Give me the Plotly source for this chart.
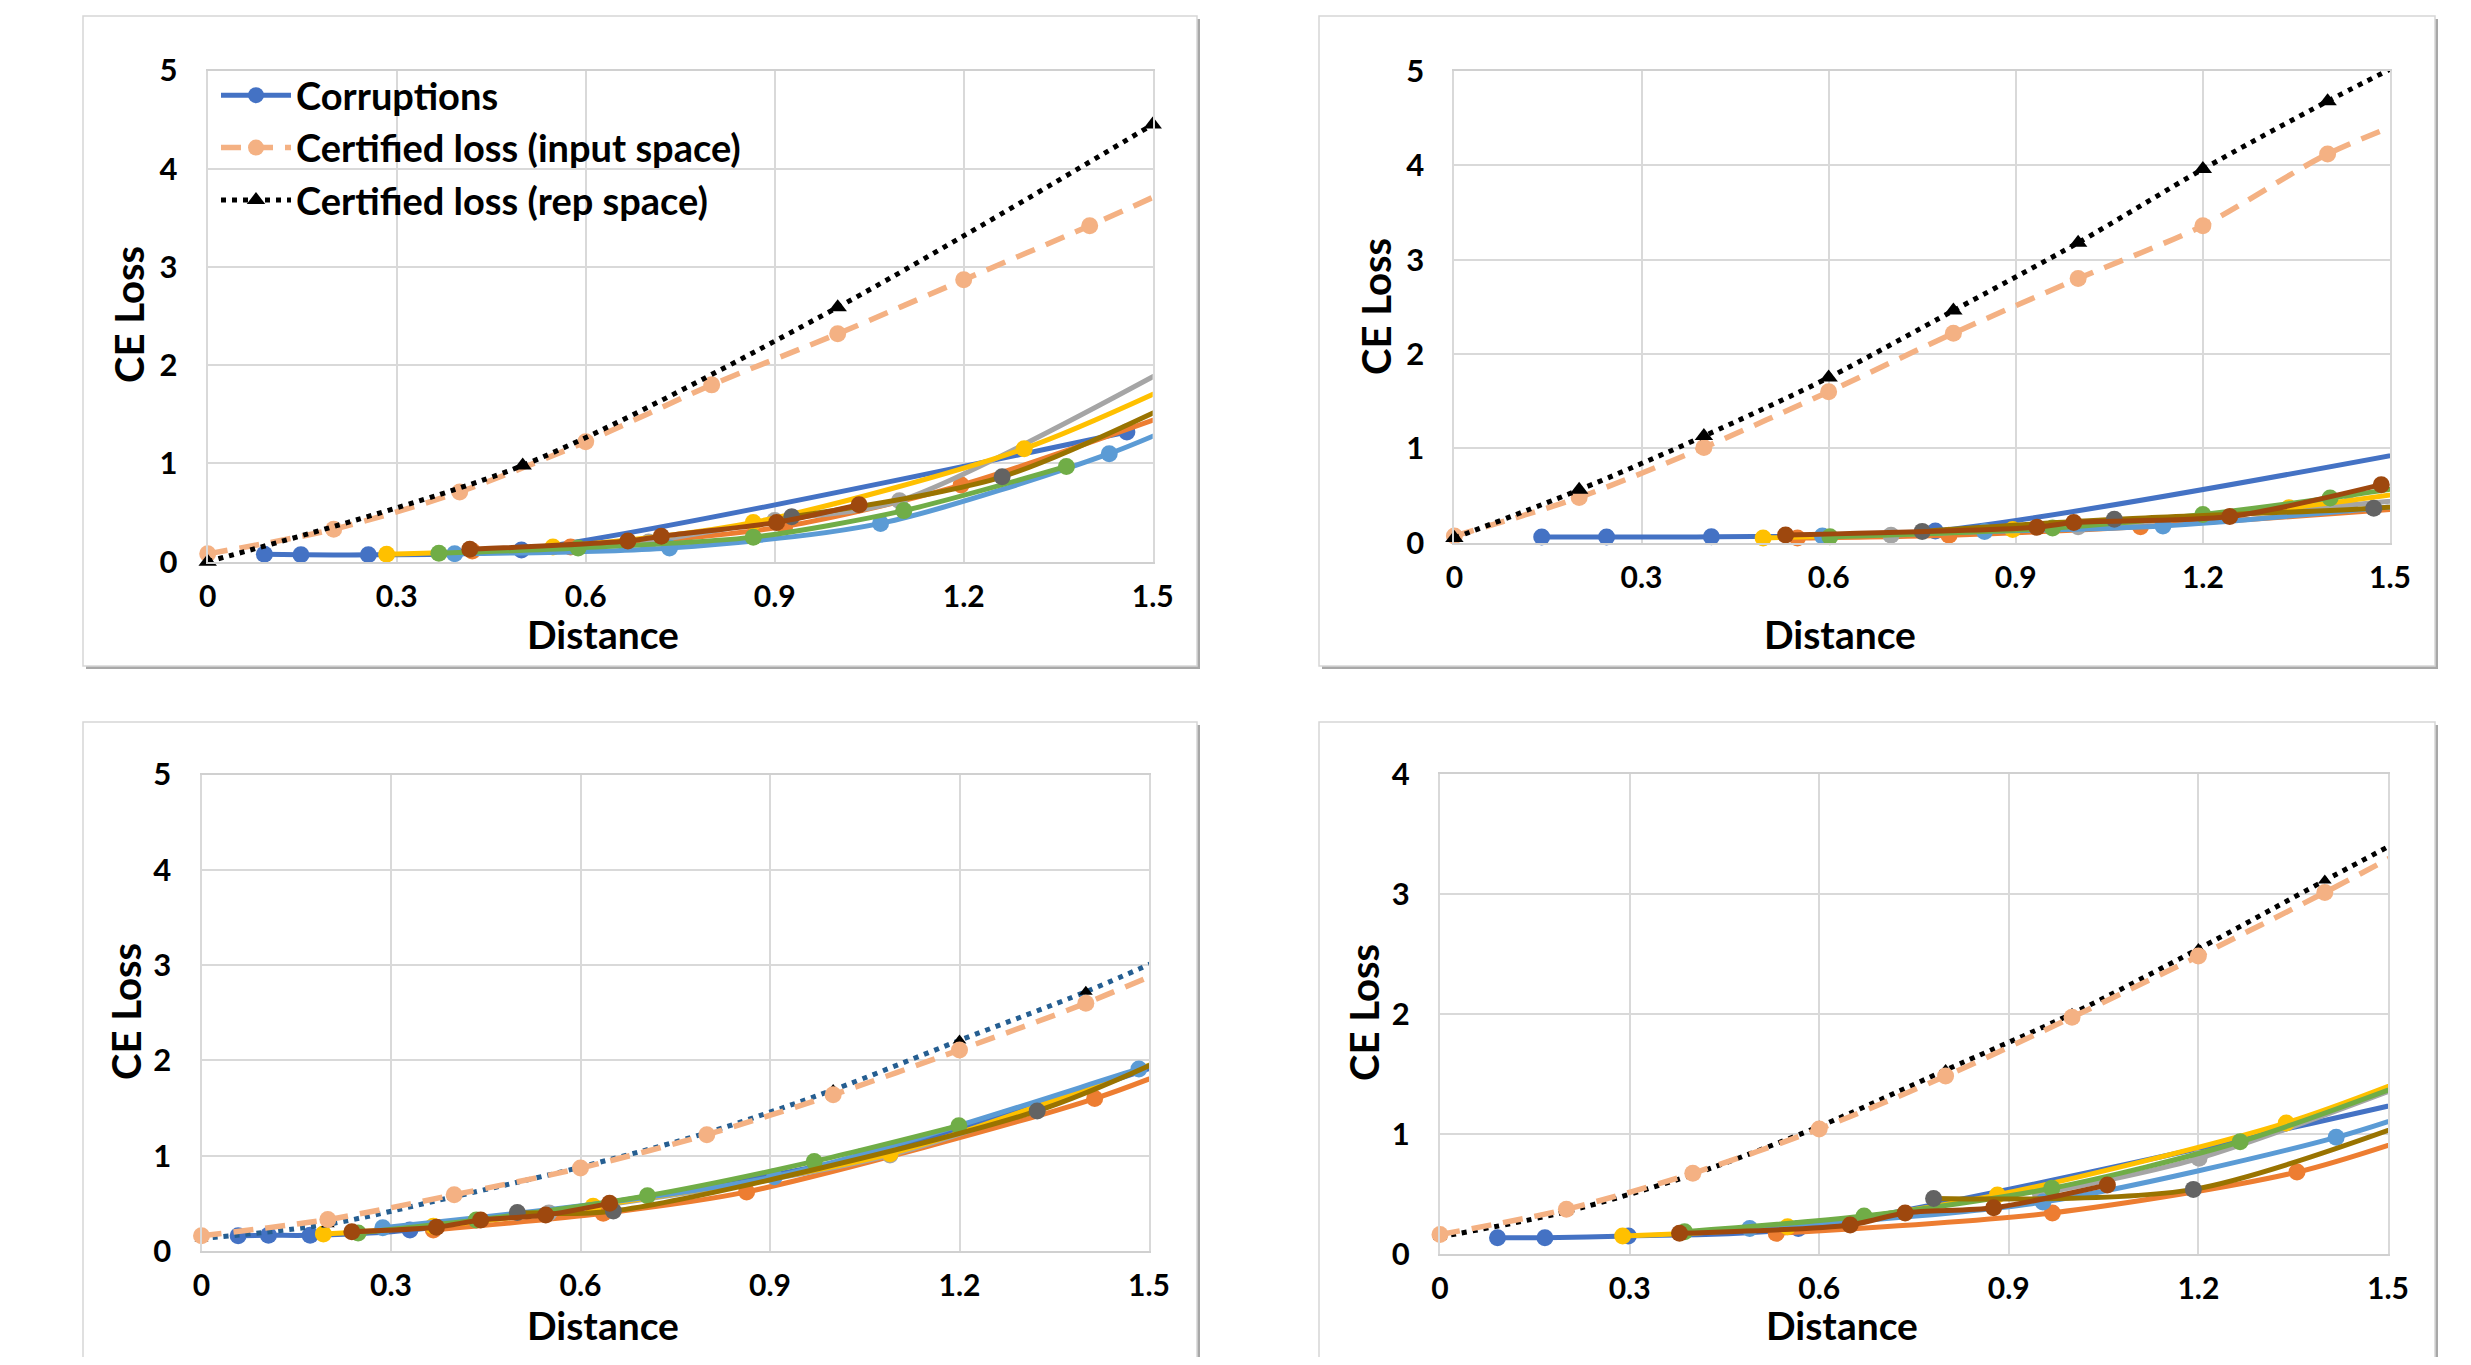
import plotly.graph_objects as go

# Page is 2471x1365; the browser body keeps an 8px margin, so the figure is
# 16px smaller and all target pixel positions are shifted by OFF.
PAGE_W, PAGE_H = 2471, 1365
OFF = 8
W, H = PAGE_W - 2 * OFF, PAGE_H - 2 * OFF
FONT = "Lato, 'Liberation Sans Narrow', 'Liberation Sans', sans-serif"

# ---------------- data ----------------
X_TICKS = [0, 0.3, 0.6, 0.9, 1.2, 1.5]
X_TICK_LABELS = ["0", "0.3", "0.6", "0.9", "1.2", "1.5"]
Y_TICKS_5 = [0, 1, 2, 3, 4, 5]
Y_TICKS_4 = [0, 1, 2, 3, 4]

CERT_X = [0, 0.2, 0.4, 0.6, 0.8, 1.0, 1.2, 1.4, 1.6]

# Panel A (top left)
A_blue_x = [0.09, 0.148, 0.255, 0.498, 1.459]
A_blue_y = [0.075, 0.07, 0.07, 0.12, 1.32]
A_orange_x = [0.42, 0.576, 0.916, 1.196, 1.6]
A_orange_y = [0.11, 0.15, 0.36, 0.78, 1.67]
A_gray_x = [0.70, 0.90, 1.098, 1.6]
A_gray_y = [0.20, 0.42, 0.62, 2.23]
A_yellow_x = [0.284, 0.548, 0.866, 1.296, 1.6]
A_yellow_y = [0.075, 0.15, 0.40, 1.15, 2.0]
A_lblue_x = [0.392, 0.733, 1.068, 1.431, 1.6]
A_lblue_y = [0.08, 0.14, 0.39, 1.10, 1.56]
A_green_x = [0.367, 0.588, 0.866, 1.105, 1.363]
A_green_y = [0.085, 0.14, 0.25, 0.52, 0.97]
A_olive_x = [0.927, 1.261, 1.6]
A_olive_y = [0.457, 0.864, 1.82]
A_brown_x = [0.416, 0.667, 0.72, 0.903, 1.034]
A_brown_y = [0.126, 0.21, 0.26, 0.40, 0.58]
A_input_y = [0.08, 0.33, 0.71, 1.22, 1.80, 2.32, 2.87, 3.42, 4.0]
A_rep_x = [0, 0.5, 1.0, 1.5]
A_rep_y = [0.0, 0.98, 2.59, 4.45]

# Panel B (top right)
B_blue_x = [0.14, 0.244, 0.412, 0.771, 1.6]
B_blue_y = [0.06, 0.06, 0.064, 0.125, 1.045]
B_orange_x = [0.55, 0.793, 1.1, 1.6]
B_orange_y = [0.05, 0.08, 0.17, 0.40]
B_gray_x = [0.7, 1.0, 1.435, 1.6]
B_gray_y = [0.08, 0.17, 0.40, 0.50]
B_yellow_x = [0.495, 0.895, 1.338, 1.6]
B_yellow_y = [0.05, 0.14, 0.37, 0.60]
B_lblue_x = [0.59, 0.85, 1.136, 1.6]
B_lblue_y = [0.07, 0.12, 0.178, 0.44]
B_green_x = [0.602, 0.959, 1.2, 1.404, 1.6]
B_green_y = [0.064, 0.155, 0.30, 0.473, 0.67]
B_olive_x = [0.75, 1.058, 1.474, 1.6]
B_olive_y = [0.12, 0.249, 0.366, 0.44]
B_brown_x = [0.531, 0.934, 0.993, 1.243, 1.486]
B_brown_y = [0.082, 0.164, 0.213, 0.277, 0.615]
B_input_y = [0.07, 0.48, 1.01, 1.60, 2.22, 2.80, 3.36, 4.12, 4.66]
B_rep_y = [0.05, 0.56, 1.13, 1.75, 2.46, 3.18, 3.96, 4.68, 5.35]

# Panel C (bottom left)
C_blue_x = [0.058, 0.106, 0.172, 0.33, 1.045, 1.6]
C_blue_y = [0.16, 0.165, 0.165, 0.22, 0.99, 2.14]
C_orange_x = [0.367, 0.636, 0.863, 1.414, 1.6]
C_orange_y = [0.22, 0.395, 0.62, 1.60, 2.07]
C_gray_x = [0.55, 1.09, 1.6]
C_gray_y = [0.40, 1.007, 2.2]
C_yellow_x = [0.193, 0.367, 0.62, 1.09, 1.6]
C_yellow_y = [0.178, 0.26, 0.47, 1.02, 2.2]
C_lblue_x = [0.287, 0.907, 1.484, 1.6]
C_lblue_y = [0.245, 0.78, 1.91, 2.15]
C_green_x = [0.248, 0.435, 0.706, 0.97, 1.199]
C_green_y = [0.19, 0.325, 0.58, 0.94, 1.315]
C_olive_x = [0.50, 0.652, 1.323, 1.6]
C_olive_y = [0.405, 0.42, 1.47, 2.25]
C_brown_x = [0.238, 0.372, 0.442, 0.545, 0.646]
C_brown_y = [0.203, 0.25, 0.325, 0.378, 0.50]
C_input_y = [0.16, 0.33, 0.59, 0.87, 1.22, 1.64, 2.11, 2.60, 3.16]
C_rep_y = [0.13, 0.28, 0.57, 0.88, 1.24, 1.69, 2.21, 2.72, 3.30]

# Panel D (bottom right)
D_blue_x = [0.091, 0.166, 0.298, 0.567, 1.6]
D_blue_y = [0.133, 0.133, 0.148, 0.21, 1.35]
D_orange_x = [0.532, 0.969, 1.356, 1.6]
D_orange_y = [0.17, 0.34, 0.68, 1.08]
D_gray_x = [0.95, 1.201, 1.6]
D_gray_y = [0.50, 0.795, 1.55]
D_yellow_x = [0.289, 0.55, 0.882, 1.339, 1.6]
D_yellow_y = [0.148, 0.225, 0.49, 1.09, 1.6]
D_lblue_x = [0.49, 0.954, 1.418, 1.6]
D_lblue_y = [0.21, 0.43, 0.97, 1.28]
D_green_x = [0.387, 0.671, 0.968, 1.266, 1.6]
D_green_y = [0.183, 0.314, 0.545, 0.933, 1.56]
D_olive_x = [0.781, 1.192, 1.6]
D_olive_y = [0.46, 0.536, 1.22]
D_brown_x = [0.379, 0.649, 0.736, 0.876, 1.056]
D_brown_y = [0.17, 0.24, 0.34, 0.383, 0.572]
D_input_y = [0.16, 0.37, 0.67, 1.04, 1.48, 1.97, 2.48, 3.01, 3.57]
D_rep_y = [0.14, 0.35, 0.66, 1.06, 1.53, 2.00, 2.54, 3.11, 3.67]

LEGEND_NAMES = ["Corruptions", "Certified loss (input space)", "Certified loss (rep space)"]

# ---------------- styles ----------------
BLUE = "#4472C4"; ORANGE = "#ED7D31"; GRAY = "#A5A5A5"; YELLOW = "#FFC000"
LBLUE = "#5B9BD5"; GREEN = "#70AD47"; DGRAY = "#636363"; OLIVE = "#997300"
BROWN = "#9E480E"; PEACH = "#F4B183"; REPBLUE = "#255E91"


def px(X):
    return (X - OFF) / W


def py(Y):
    return 1 - (Y - OFF) / H


# plot-area pixel boxes (page coords): (left, right, top, bottom)
BOXES = {
    "A": (207.7, 1152.7, 70.5, 561.7),
    "B": (1454.4, 2390.0, 71.0, 542.7),
    "C": (201.5, 1149.0, 774.5, 1251.0),
    "D": (1440.0, 2388.0, 773.7, 1253.7),
}
CARDS = [(83, 16, 1197, 666), (1319, 16, 2435, 666), (83, 722, 1197, 1362), (1319, 722, 2435, 1362)]
XT_POS = {"A": (603, 634), "B": (1840, 634), "C": (603, 1325), "D": (1842, 1325)}
YT_POS = {"A": (129, 315), "B": (1376, 307), "C": (126, 1012), "D": (1364, 1013)}

fig = go.Figure()

panels = ["A", "B", "C", "D"]
axis_ids = {"A": ("x", "y"), "B": ("x2", "y2"), "C": ("x3", "y3"), "D": ("x4", "y4")}
data = {
    "A": [(A_blue_x, A_blue_y, BLUE, BLUE), (A_orange_x, A_orange_y, ORANGE, ORANGE),
          (A_gray_x, A_gray_y, GRAY, GRAY), (A_yellow_x, A_yellow_y, YELLOW, YELLOW),
          (A_lblue_x, A_lblue_y, LBLUE, LBLUE), (A_green_x, A_green_y, GREEN, GREEN),
          (A_olive_x, A_olive_y, OLIVE, DGRAY), (A_brown_x, A_brown_y, BROWN, BROWN)],
    "B": [(B_blue_x, B_blue_y, BLUE, BLUE), (B_orange_x, B_orange_y, ORANGE, ORANGE),
          (B_gray_x, B_gray_y, GRAY, GRAY), (B_yellow_x, B_yellow_y, YELLOW, YELLOW),
          (B_lblue_x, B_lblue_y, LBLUE, LBLUE), (B_green_x, B_green_y, GREEN, GREEN),
          (B_olive_x, B_olive_y, OLIVE, DGRAY), (B_brown_x, B_brown_y, BROWN, BROWN)],
    "C": [(C_blue_x, C_blue_y, BLUE, BLUE), (C_orange_x, C_orange_y, ORANGE, ORANGE),
          (C_gray_x, C_gray_y, GRAY, GRAY), (C_yellow_x, C_yellow_y, YELLOW, YELLOW),
          (C_lblue_x, C_lblue_y, LBLUE, LBLUE), (C_green_x, C_green_y, GREEN, GREEN),
          (C_olive_x, C_olive_y, OLIVE, DGRAY), (C_brown_x, C_brown_y, BROWN, BROWN)],
    "D": [(D_blue_x, D_blue_y, BLUE, BLUE), (D_orange_x, D_orange_y, ORANGE, ORANGE),
          (D_gray_x, D_gray_y, GRAY, GRAY), (D_yellow_x, D_yellow_y, YELLOW, YELLOW),
          (D_lblue_x, D_lblue_y, LBLUE, LBLUE), (D_green_x, D_green_y, GREEN, GREEN),
          (D_olive_x, D_olive_y, OLIVE, DGRAY), (D_brown_x, D_brown_y, BROWN, BROWN)],
}
cert = {
    "A": (CERT_X, A_input_y, A_rep_x, A_rep_y, "black"),
    "B": (CERT_X, B_input_y, CERT_X, B_rep_y, "black"),
    "C": (CERT_X, C_input_y, CERT_X, C_rep_y, REPBLUE),
    "D": (CERT_X, D_input_y, CERT_X, D_rep_y, "black"),
}

for p in panels:
    xa, ya = axis_ids[p]
    first = (p == "A")
    for i, (xs, ys, lc, mc) in enumerate(data[p]):
        fig.add_trace(go.Scatter(
            x=xs, y=ys, xaxis=xa, yaxis=ya, mode="lines+markers",
            line=dict(color=lc, width=5, shape="spline", smoothing=0.8),
            marker=dict(color=mc, size=17, symbol="circle"),
            cliponaxis=False,
            name=LEGEND_NAMES[0], showlegend=(first and i == 0), legendrank=1,
        ))
    cx, cin, rx, rep, repc = cert[p]
    inp = go.Scatter(
        x=cx, y=cin, xaxis=xa, yaxis=ya, mode="lines+markers",
        line=dict(color=PEACH, width=5.5, dash="20px,12px", shape="spline", smoothing=0.8),
        marker=dict(color=PEACH, size=17, symbol="circle"), cliponaxis=False,
        name=LEGEND_NAMES[1], showlegend=first, legendrank=2,
    )
    rp = go.Scatter(
        x=rx, y=rep, xaxis=xa, yaxis=ya, mode="lines+markers",
        line=dict(color=repc, width=5, dash="5px,6px", shape="spline", smoothing=0.8),
        marker=dict(color="black", size=16 if p in ("A", "B") else 12, symbol="triangle-up"),
        cliponaxis=False,
        name=LEGEND_NAMES[2], showlegend=first, legendrank=3,
    )
    if p in ("A", "B"):
        fig.add_trace(inp); fig.add_trace(rp)
    else:
        fig.add_trace(rp); fig.add_trace(inp)

layout = dict(
    width=W, height=H, autosize=False, margin=dict(l=0, r=0, t=0, b=0, autoexpand=False),
    paper_bgcolor="white", plot_bgcolor="white",
    font=dict(family=FONT, color="black"),
    showlegend=True,
    legend=dict(x=px(216), y=py(64), xanchor="left", yanchor="top",
                bgcolor="rgba(0,0,0,0)", borderwidth=0,
                font=dict(family=FONT, size=38, color="black", weight="bold"),
                itemwidth=70, tracegroupgap=0, traceorder="normal"),
)

shapes = []
for (x0, y0, x1, y1) in CARDS:
    shapes.append(dict(type="rect", xref="paper", yref="paper", layer="below",
                       x0=px(x0 + 3), x1=px(x1 + 3), y0=py(y1 + 3), y1=py(y0 + 3),
                       line=dict(width=0), fillcolor="#a8a8a8"))
    shapes.append(dict(type="rect", xref="paper", yref="paper", layer="below",
                       x0=px(x0), x1=px(x1), y0=py(y1), y1=py(y0),
                       line=dict(width=1.5, color="#d6d6d6"), fillcolor="white"))
layout["shapes"] = shapes

annotations = []
for k, p in enumerate(panels):
    l, r, t, b = BOXES[p]
    sfx = "" if k == 0 else str(k + 1)
    ymax = 4 if p == "D" else 5
    yt = Y_TICKS_4 if p == "D" else Y_TICKS_5
    layout["xaxis" + sfx] = dict(
        domain=[px(l), px(r)], range=[0, 1.5], anchor="y" + sfx,
        tickvals=X_TICKS, ticktext=X_TICK_LABELS,
        showgrid=True, gridcolor="#d9d9d9", gridwidth=2,
        zeroline=False, showline=True, linecolor="#d0d0d0", linewidth=2, mirror=True,
        ticks="", ticklabelstandoff=7,
        tickfont=dict(family=FONT, size=30, color="black", weight="bold"),
        fixedrange=True,
    )
    layout["yaxis" + sfx] = dict(
        domain=[py(b), py(t)], range=[0, ymax], anchor="x" + sfx,
        tickvals=yt, ticktext=[str(v) for v in yt],
        showgrid=True, gridcolor="#d9d9d9", gridwidth=2,
        zeroline=False, showline=True, linecolor="#d9d9d9", linewidth=2, mirror=True,
        ticks="", ticklabelstandoff=22,
        tickfont=dict(family=FONT, size=31, color="black", weight="bold"),
        fixedrange=True,
    )
    ax, ay = XT_POS[p]
    annotations.append(dict(text="Distance", xref="paper", yref="paper",
                            x=px(ax), y=py(ay), xanchor="center", yanchor="middle",
                            showarrow=False,
                            font=dict(family=FONT, size=39, color="black", weight="bold")))
    bx, by = YT_POS[p]
    annotations.append(dict(text="CE Loss", xref="paper", yref="paper", textangle=-90,
                            x=px(bx), y=py(by), xanchor="center", yanchor="middle",
                            showarrow=False,
                            font=dict(family=FONT, size=40, color="black", weight="bold")))
layout["annotations"] = annotations

fig.update_layout(**layout)

fig.write_html("out.html", include_plotlyjs=True,
               config={"displayModeBar": False, "responsive": False})
